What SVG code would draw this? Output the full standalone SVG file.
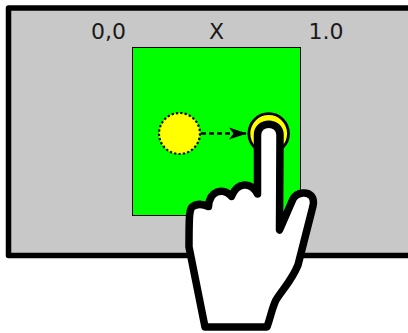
<svg xmlns="http://www.w3.org/2000/svg" width="408" height="333" viewBox="0 0 408 333">
<style>
text{font-family:"DejaVu Sans",sans-serif;font-size:22px;fill:#1a1a1a;text-anchor:middle}
</style>
<defs>
<marker id="ah" markerUnits="userSpaceOnUse" markerWidth="20" markerHeight="14" refX="19" refY="7" orient="auto"><path d="M19 7L1 1L5.500 7L1 13Z" fill="#000"/></marker>
</defs>
<rect width="408" height="333" fill="#fff"/>
<g id="screen"><path d="M412 8H8.500V255.500H412Z" fill="#c8c8c8" stroke="#000" stroke-width="5.500" stroke-linejoin="round"/></g>
<g id="area"><rect x="132.500" y="47.500" width="168" height="168" fill="#0f0" stroke="#000" stroke-width="1"/></g>
<g id="labels"><text x="108.500" y="39">0,0</text><text x="216.500" y="39">X</text><text x="326" y="39">1.0</text></g>
<g id="start"><circle cx="179.500" cy="133.500" r="20.500" fill="#ff0" stroke="#000" stroke-width="2.200" stroke-dasharray="2.200 2.200"/></g>
<g id="target"><circle cx="268.700" cy="133.500" r="19.800" fill="#ff0" stroke="#000" stroke-width="2.800"/></g>
<g id="connectors"><path d="M201 133.500H247" fill="none" stroke="#000" stroke-width="2.300" stroke-dasharray="5 3" marker-end="url(#ah)"/></g>
<g id="hand"><path d="M279.500 230L280 135C280 120.500 257.500 120.500 257.500 135V194C254 187 250 184.500 244 185C238 185.500 234 190 231.500 196.500C227 191 222 190.500 217 192C212 194 209 199 208.500 206.500C202 203.500 196 204 192 207C189.500 210 189 215 189 247L205 327H267C271 316 272 308 276 300C283 289 292 280 298 265L313 206C315 197 310 192.500 303 193C298 193.500 295 195 293 199Z" fill="#fff" stroke="#000" stroke-width="7.500" stroke-linejoin="round" stroke-linecap="round"/></g>
</svg>
